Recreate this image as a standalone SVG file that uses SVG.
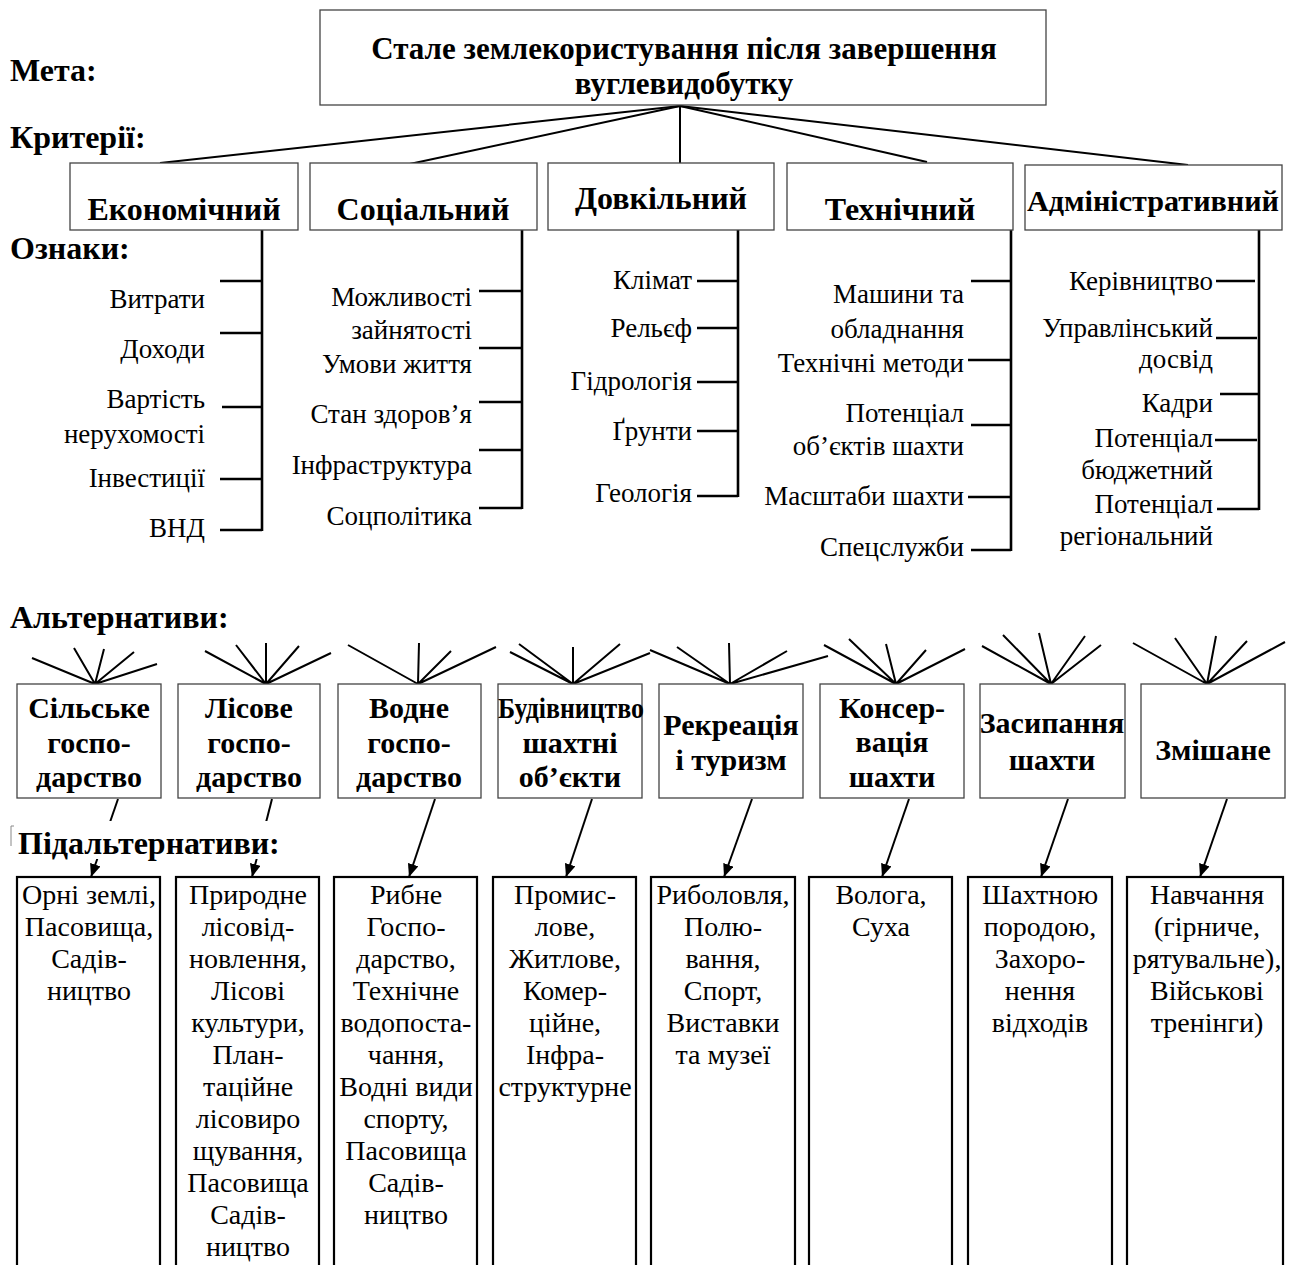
<svg xmlns="http://www.w3.org/2000/svg" width="1295" height="1265" viewBox="0 0 1295 1265">
<style>
  .b { font-family: "Liberation Serif", "Times New Roman", serif; font-weight: bold; font-size: 30px; fill: #000; }
  .lv { font-size: 32px; }
  .cr { font-size: 32px; }
  .tp { font-size: 31px; }
  .r { font-family: "Liberation Serif", "Times New Roman", serif; font-size: 27px; fill: #000; }
  .s { font-size: 28px; }
  .end { text-anchor: end; }
  .mid { text-anchor: middle; }
  .box { fill: #fff; stroke: #444; stroke-width: 1.3; }
  .sbox { fill: #fff; stroke: #000; stroke-width: 2.2; }
  .ln { stroke: #000; stroke-width: 2; fill: none; }
  .br { stroke: #000; stroke-width: 2.6; fill: none; }
  .ar { stroke: #000; stroke-width: 2; fill: none; marker-end: url(#ah); }
</style>
<defs>
  <marker id="ah" viewBox="0 0 12 10" refX="12" refY="5" markerWidth="13" markerHeight="11" markerUnits="userSpaceOnUse" orient="auto">
    <path d="M0,0 L12,5 L0,10 z" fill="#000"/>
  </marker>
</defs>
<rect width="1295" height="1265" fill="#fff"/>

<g id="connectors">
  <!-- goal to criteria -->
  <line class="ln" x1="680" y1="106" x2="160" y2="163"/>
  <line class="ln" x1="680" y1="106" x2="405" y2="165"/>
  <line class="ln" x1="680" y1="106" x2="680" y2="163"/>
  <line class="ln" x1="680" y1="106" x2="927" y2="162"/>
  <line class="ln" x1="680" y1="106" x2="1188" y2="165"/>
  <!-- economic bracket -->
  <path class="br" d="M262,230 V531 M220,281 H262 M220,333 H262 M222,407 H262 M220,479 H262 M220,530 H262"/>
  <!-- social bracket -->
  <path class="br" d="M522,230 V509 M479,291 H522 M479,348 H522 M479,402 H522 M479,450 H522 M479,508 H522"/>
  <!-- environmental bracket -->
  <path class="br" d="M738,230 V497 M697,281 H738 M697,328 H738 M697,382 H738 M697,431 H738 M697,496 H738"/>
  <!-- technical bracket -->
  <path class="br" d="M1011,230 V551 M971,281 H1011 M968,360 H1011 M971,425 H1011 M968,497 H1011 M971,550 H1011"/>
  <!-- administrative bracket -->
  <path class="br" d="M1259,230 V510 M1216,281 H1255 M1216,338 H1257 M1220,394 H1259 M1215,440 H1257 M1217,509 H1259"/>
  <!-- fans above alternatives -->
  <path class="ln" d="M95,684 L32,658 M95,684 L74,648 M95,684 L104,649 M95,684 L134,652 M95,684 L157,664"/>
  <path class="ln" d="M266,684 L205,651 M266,684 L236,645 M266,684 L266,643 M266,684 L299,646 M266,684 L331,653"/>
  <path class="ln" d="M418,684 L348,645 M418,684 L419,643 M418,684 L451,651 M418,684 L496,647"/>
  <path class="ln" d="M573,684 L510,652 M573,684 L519,644 M573,684 L573,647 M573,684 L620,644 M573,684 L650,653"/>
  <path class="ln" d="M730,684 L650,650 M730,684 L677,647 M730,684 L729,643 M730,684 L787,651 M730,684 L828,656"/>
  <path class="ln" d="M896,684 L824,645 M896,684 L849,639 M896,684 L886,644 M896,684 L926,650 M896,684 L965,649"/>
  <path class="ln" d="M1051,684 L982,646 M1051,684 L1003,635 M1051,684 L1039,633 M1051,684 L1085,636 M1051,684 L1101,645"/>
  <path class="ln" d="M1207,684 L1133,643 M1207,684 L1175,638 M1207,684 L1216,636 M1207,684 L1247,641 M1207,684 L1285,642"/>
  <!-- arrows to sub-alternatives -->
  <line class="ar" x1="118" y1="799" x2="91" y2="877"/>
  <line class="ar" x1="272" y1="799" x2="252" y2="877"/>
  <line class="ar" x1="435" y1="799" x2="409" y2="877"/>
  <line class="ar" x1="592" y1="799" x2="566" y2="877"/>
  <line class="ar" x1="752" y1="799" x2="724" y2="877"/>
  <line class="ar" x1="909" y1="799" x2="882" y2="877"/>
  <line class="ar" x1="1068" y1="799" x2="1041" y2="877"/>
  <line class="ar" x1="1227" y1="799" x2="1200" y2="877"/>
</g>

<g id="levels">
  <text class="b lv" x="10" y="81">Мета:</text>
  <text class="b lv" x="10" y="148">Критерії:</text>
  <text class="b lv" x="10" y="259">Ознаки:</text>
  <text class="b lv" x="10" y="628">Альтернативи:</text>
  <rect x="16" y="821" width="272" height="38" fill="#fff"/>
  <path d="M14,826 H11 V846" stroke="#888" stroke-width="1" fill="none"/>
  <text class="b lv" x="18" y="854">Підальтернативи:</text>
</g>

<g id="goal">
  <rect class="box" x="320" y="10" width="726" height="95"/>
  <text class="b tp mid" x="684" y="59">Стале землекористування після завершення</text>
  <text class="b tp mid" x="684" y="94">вуглевидобутку</text>
</g>

<g id="crit-economic">
  <rect class="box" x="70" y="163" width="228" height="67"/>
  <text class="b cr mid" x="184" y="220">Економічний</text>
</g>
<g id="crit-social">
  <rect class="box" x="310" y="163" width="227" height="67"/>
  <text class="b cr mid" x="423" y="220">Соціальний</text>
</g>
<g id="crit-environmental">
  <rect class="box" x="548" y="163" width="226" height="67"/>
  <text class="b cr mid" x="661" y="209">Довкільний</text>
</g>
<g id="crit-technical">
  <rect class="box" x="787" y="163" width="226" height="67"/>
  <text class="b cr mid" x="900" y="220">Технічний</text>
</g>
<g id="crit-administrative">
  <rect class="box" x="1025" y="165" width="257" height="65"/>
  <text class="b mid" x="1153" y="211" textLength="252" lengthAdjust="spacingAndGlyphs">Адміністративний</text>
</g>

<g id="features-economic">
  <text class="r end" x="205" y="308">Витрати</text>
  <text class="r end" x="205" y="358">Доходи</text>
  <text class="r end" x="205" y="408">Вартість</text>
  <text class="r end" x="205" y="443">нерухомості</text>
  <text class="r end" x="205" y="487">Інвестиції</text>
  <text class="r end" x="205" y="537">ВНД</text>
</g>
<g id="features-social">
  <text class="r end" x="472" y="306">Можливості</text>
  <text class="r end" x="472" y="339">зайнятості</text>
  <text class="r end" x="472" y="373">Умови життя</text>
  <text class="r end" x="472" y="423">Стан здоров’я</text>
  <text class="r end" x="472" y="474">Інфраструктура</text>
  <text class="r end" x="472" y="525">Соцполітика</text>
</g>
<g id="features-environmental">
  <text class="r end" x="692" y="289">Клімат</text>
  <text class="r end" x="692" y="337">Рельєф</text>
  <text class="r end" x="692" y="390">Гідрологія</text>
  <text class="r end" x="692" y="440">Ґрунти</text>
  <text class="r end" x="692" y="502">Геологія</text>
</g>
<g id="features-technical">
  <text class="r end" x="964" y="303">Машини та</text>
  <text class="r end" x="964" y="338">обладнання</text>
  <text class="r end" x="964" y="372">Технічні методи</text>
  <text class="r end" x="964" y="422">Потенціал</text>
  <text class="r end" x="964" y="455">об’єктів шахти</text>
  <text class="r end" x="964" y="505">Масштаби шахти</text>
  <text class="r end" x="964" y="556">Спецслужби</text>
</g>
<g id="features-administrative">
  <text class="r end" x="1213" y="290">Керівництво</text>
  <text class="r end" x="1213" y="337">Управлінський</text>
  <text class="r end" x="1213" y="368">досвід</text>
  <text class="r end" x="1213" y="412">Кадри</text>
  <text class="r end" x="1213" y="447">Потенціал</text>
  <text class="r end" x="1213" y="479">бюджетний</text>
  <text class="r end" x="1213" y="513">Потенціал</text>
  <text class="r end" x="1213" y="545">регіональний</text>
</g>

<g id="alt-agriculture">
  <rect class="box" x="17" y="684" width="144" height="114"/>
  <text class="b mid" x="89" y="718">Сільське</text>
  <text class="b mid" x="89" y="753">госпо-</text>
  <text class="b mid" x="89" y="787">дарство</text>
</g>
<g id="alt-forestry">
  <rect class="box" x="178" y="684" width="142" height="114"/>
  <text class="b mid" x="249" y="718">Лісове</text>
  <text class="b mid" x="249" y="753">госпо-</text>
  <text class="b mid" x="249" y="787">дарство</text>
</g>
<g id="alt-water">
  <rect class="box" x="338" y="684" width="143" height="114"/>
  <text class="b mid" x="409" y="718">Водне</text>
  <text class="b mid" x="409" y="753">госпо-</text>
  <text class="b mid" x="409" y="787">дарство</text>
</g>
<g id="alt-construction">
  <rect class="box" x="498" y="684" width="144" height="114"/>
  <text class="b mid" x="571" y="718" textLength="146" lengthAdjust="spacingAndGlyphs">Будівництво</text>
  <text class="b mid" x="570" y="753">шахтні</text>
  <text class="b mid" x="570" y="787">об’єкти</text>
</g>
<g id="alt-recreation">
  <rect class="box" x="659" y="684" width="144" height="114"/>
  <text class="b mid" x="731" y="735">Рекреація</text>
  <text class="b mid" x="731" y="770">і туризм</text>
</g>
<g id="alt-conservation">
  <rect class="box" x="820" y="684" width="144" height="114"/>
  <text class="b mid" x="892" y="718">Консер-</text>
  <text class="b mid" x="892" y="752">вація</text>
  <text class="b mid" x="892" y="787">шахти</text>
</g>
<g id="alt-backfill">
  <rect class="box" x="980" y="684" width="145" height="114"/>
  <text class="b mid" x="1052" y="733">Засипання</text>
  <text class="b mid" x="1052" y="770">шахти</text>
</g>
<g id="alt-mixed">
  <rect class="box" x="1141" y="684" width="144" height="114"/>
  <text class="b mid" x="1213" y="760">Змішане</text>
</g>

<g id="sub-agriculture">
  <rect class="sbox" x="17" y="877" width="143" height="420"/>
  <text class="r s mid" x="89" y="904">Орні землі,</text>
  <text class="r s mid" x="89" y="936">Пасовища,</text>
  <text class="r s mid" x="89" y="968">Садів-</text>
  <text class="r s mid" x="89" y="1000">ництво</text>
</g>
<g id="sub-forestry">
  <rect class="sbox" x="176" y="877" width="143" height="420"/>
  <text class="r s mid" x="248" y="904">Природне</text>
  <text class="r s mid" x="248" y="936">лісовід-</text>
  <text class="r s mid" x="248" y="968">новлення,</text>
  <text class="r s mid" x="248" y="1000">Лісові</text>
  <text class="r s mid" x="248" y="1032">культури,</text>
  <text class="r s mid" x="248" y="1064">План-</text>
  <text class="r s mid" x="248" y="1096">таційне</text>
  <text class="r s mid" x="248" y="1128">лісовиро</text>
  <text class="r s mid" x="248" y="1160">щування,</text>
  <text class="r s mid" x="248" y="1192">Пасовища</text>
  <text class="r s mid" x="248" y="1224">Садів-</text>
  <text class="r s mid" x="248" y="1256">ництво</text>
</g>
<g id="sub-water">
  <rect class="sbox" x="334" y="877" width="143" height="420"/>
  <text class="r s mid" x="406" y="904">Рибне</text>
  <text class="r s mid" x="406" y="936">Госпо-</text>
  <text class="r s mid" x="406" y="968">дарство,</text>
  <text class="r s mid" x="406" y="1000">Технічне</text>
  <text class="r s mid" x="406" y="1032">водопоста-</text>
  <text class="r s mid" x="406" y="1064">чання,</text>
  <text class="r s mid" x="406" y="1096">Водні види</text>
  <text class="r s mid" x="406" y="1128">спорту,</text>
  <text class="r s mid" x="406" y="1160">Пасовища</text>
  <text class="r s mid" x="406" y="1192">Садів-</text>
  <text class="r s mid" x="406" y="1224">ництво</text>
</g>
<g id="sub-construction">
  <rect class="sbox" x="493" y="877" width="143" height="420"/>
  <text class="r s mid" x="565" y="904">Промис-</text>
  <text class="r s mid" x="565" y="936">лове,</text>
  <text class="r s mid" x="565" y="968">Житлове,</text>
  <text class="r s mid" x="565" y="1000">Комер-</text>
  <text class="r s mid" x="565" y="1032">ційне,</text>
  <text class="r s mid" x="565" y="1064">Інфра-</text>
  <text class="r s mid" x="565" y="1096">структурне</text>
</g>
<g id="sub-recreation">
  <rect class="sbox" x="651" y="877" width="144" height="420"/>
  <text class="r s mid" x="723" y="904">Риболовля,</text>
  <text class="r s mid" x="723" y="936">Полю-</text>
  <text class="r s mid" x="723" y="968">вання,</text>
  <text class="r s mid" x="723" y="1000">Спорт,</text>
  <text class="r s mid" x="723" y="1032">Виставки</text>
  <text class="r s mid" x="723" y="1064">та музеї</text>
</g>
<g id="sub-conservation">
  <rect class="sbox" x="809" y="877" width="143" height="420"/>
  <text class="r s mid" x="881" y="904">Волога,</text>
  <text class="r s mid" x="881" y="936">Суха</text>
</g>
<g id="sub-backfill">
  <rect class="sbox" x="968" y="877" width="144" height="420"/>
  <text class="r s mid" x="1040" y="904">Шахтною</text>
  <text class="r s mid" x="1040" y="936">породою,</text>
  <text class="r s mid" x="1040" y="968">Захоро-</text>
  <text class="r s mid" x="1040" y="1000">нення</text>
  <text class="r s mid" x="1040" y="1032">відходів</text>
</g>
<g id="sub-mixed">
  <rect class="sbox" x="1127" y="877" width="156" height="420"/>
  <text class="r s mid" x="1207" y="904">Навчання</text>
  <text class="r s mid" x="1207" y="936">(гірниче,</text>
  <text class="r s mid" x="1207" y="968">рятувальне),</text>
  <text class="r s mid" x="1207" y="1000">Військові</text>
  <text class="r s mid" x="1207" y="1032">тренінги)</text>
</g>
</svg>
